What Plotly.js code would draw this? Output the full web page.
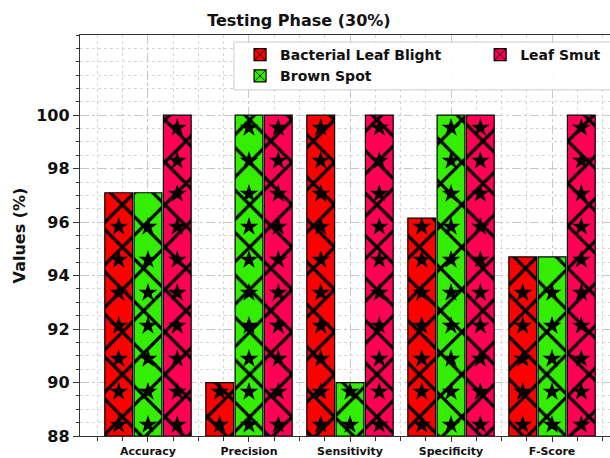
<!DOCTYPE html>
<html>
<head>
<meta charset="utf-8">
<script src="https://cdn.plot.ly/plotly-3.0.1.min.js"></script>
<style>
  html, body { margin: 0; padding: 0; background: #fff; overflow: hidden; }
  #chart { width: 610px; height: 458px; }
</style>
</head>
<body>
<div id="chart"></div>
<script>
// Metric names along the x axis
const metrics = ['Accuracy', 'Precision', 'Sensitivity', 'Specificity', 'F-Score'];

// Scores (%) per disease class
const bacterialLeafBlight = [97.1, 90.0, 100.0, 96.15, 94.7];
const brownSpot           = [97.1, 100.0, 90.0, 100.0, 94.7];
const leafSmut            = [100.0, 100.0, 100.0, 100.0, 100.0];

const seriesNames = ['Bacterial Leaf Blight', 'Brown Spot', 'Leaf Smut'];
const yTicks = [88, 90, 92, 94, 96, 98, 100];

const series = [bacterialLeafBlight, brownSpot, leafSmut];
const colors = ['#ff0000', '#33ee00', '#ff0055'];
// two-column legend: first column holds the first two classes, second column the third
const legendIds = ['legend', 'legend', 'legend2'];

const barW = 0.275;
const step = 0.29;
const xIdx = metrics.map((_, i) => i);

const font = { family: 'DejaVu Sans', color: '#111' };

const traces = [];
series.forEach((vals, j) => {
  const off = (j - 1) * step;
  traces.push({
    type: 'bar',
    name: seriesNames[j],
    x: xIdx.map(i => i + off),
    y: vals.map(v => v - 88),
    base: 88,
    width: barW,
    marker: {
      color: colors[j],
      line: { color: '#000', width: 1.2 },
      pattern: { shape: 'x', fgcolor: '#000', fgopacity: 1, bgcolor: colors[j],
                 size: 30, solidity: 0.2, fillmode: 'overlay' }
    },
    legend: legendIds[j],
    hoverinfo: 'x+y'
  });
});

// Star hatch decoration inside each bar, stacked up to the bar's value
const starStart = 88.42, starGap = 1.234;
series.forEach((vals, j) => {
  const off = (j - 1) * step;
  const sx = [], sy = [];
  vals.forEach((v, i) => {
    for (let y = starStart; y < v - 0.25; y += starGap) { sx.push(i + off); sy.push(y); }
  });
  traces.push({
    type: 'scatter', mode: 'markers', x: sx, y: sy,
    marker: { symbol: 'star', size: 14, color: '#000', line: { width: 0 } },
    showlegend: false, hoverinfo: 'skip'
  });
});

const legendCommon = {
  orientation: 'v',
  xanchor: 'left', yanchor: 'top',
  bgcolor: 'rgba(0,0,0,0)', borderwidth: 0,
  font: { ...font, size: 14, weight: 700 },
  traceorder: 'normal',
  tracegroupgap: 0
};

const layout = {
  width: 610, height: 458,
  margin: { l: 80, r: 0, t: 35, b: 22 },
  paper_bgcolor: '#fff', plot_bgcolor: '#fff',
  barmode: 'overlay',
  title: {
    text: 'Testing Phase (30%)',
    font: { ...font, size: 16, weight: 700 },
    x: 0.49, xref: 'container', xanchor: 'center',
    y: 0.955, yref: 'container', yanchor: 'middle'
  },
  xaxis: {
    range: [-0.673, 4.574],
    tickmode: 'array', tickvals: xIdx, ticktext: metrics,
    tickfont: { ...font, size: 11, weight: 700 },
    ticks: 'outside', ticklen: 5, tickcolor: '#333',
    showline: true, linecolor: '#333', linewidth: 1.2, mirror: true,
    showgrid: true, gridcolor: '#c8c8c8', griddash: 'dashdot', gridwidth: 1,
    zeroline: false,
    minor: { tick0: 0, dtick: 0.25, ticks: 'outside', ticklen: 4, tickcolor: '#333',
             showgrid: true, gridcolor: '#d6d6d6', griddash: 'dot', gridwidth: 1 }
  },
  yaxis: {
    range: [88, 103],
    tickmode: 'array', tickvals: yTicks,
    tickfont: { ...font, size: 16, weight: 700 },
    ticks: 'outside', ticklen: 6, tickcolor: '#333',
    showline: true, linecolor: '#333', linewidth: 1.2,
    showgrid: true, gridcolor: '#c8c8c8', griddash: 'dashdot', gridwidth: 1,
    zeroline: false,
    title: { text: 'Values (%)', font: { ...font, size: 16, weight: 700 }, standoff: 6 },
    minor: { tickmode: 'linear', tick0: 88, dtick: 0.5, ticks: 'outside', ticklen: 3, tickcolor: '#333',
             showgrid: true, gridcolor: '#d6d6d6', griddash: 'dot', gridwidth: 1 }
  },
  // shared frame behind both legend columns
  shapes: [{
    type: 'rect', xref: 'paper', yref: 'paper', layer: 'above',
    x0: 0.2906, x1: 1.03, y0: 0.863, y1: 0.9825,
    fillcolor: 'rgba(255,255,255,0.92)',
    line: { color: '#cccccc', width: 1 }
  }],
  legend: { ...legendCommon, x: 0.302, y: 0.99 },
  legend2: { ...legendCommon, x: 0.755, y: 0.99 },
  showlegend: true
};

Plotly.newPlot('chart', traces, layout, { displayModeBar: false, staticPlot: true });
</script>
</body>
</html>
